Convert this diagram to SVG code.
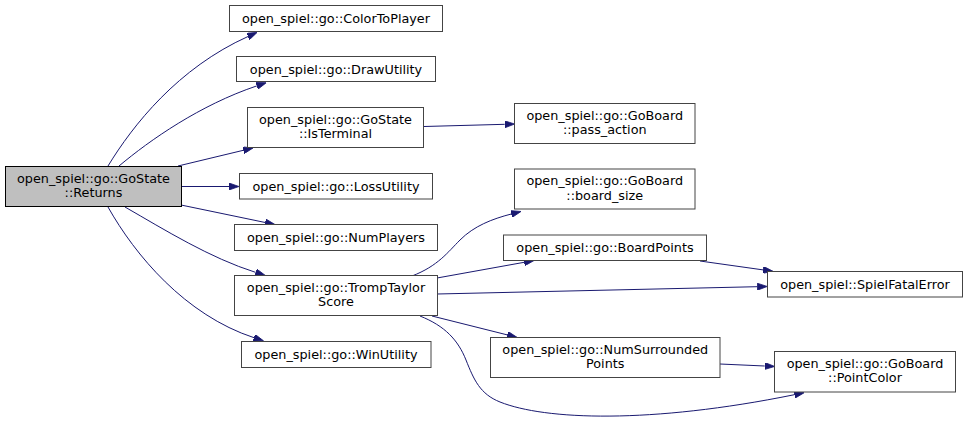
<svg xmlns="http://www.w3.org/2000/svg" width="968" height="424" viewBox="0 0 968 424">
<style>
.n rect{fill:#ffffff;stroke:#444444;stroke-width:1}
.n text{font-family:"DejaVu Sans",sans-serif;font-size:12.8px;fill:#000000;text-anchor:middle}
#root rect{fill:#bfbfbf;stroke:#000000}
.e path{fill:none;stroke:#191970;stroke-width:1;marker-end:url(#ah)}
</style>
<defs>
<marker id="ah" viewBox="0 0 10 7" refX="0" refY="3.5" markerWidth="10" markerHeight="7" markerUnits="userSpaceOnUse" orient="auto">
<path d="M0,0 L10,3.5 L0,7 z" fill="#191970" stroke="#191970" stroke-width="0.8"/>
</marker>
</defs>
<rect width="968" height="424" fill="#ffffff"/>
<g id="edges" class="e">
<path d="M108,166 C133,125 178,68 248,36.5"/>
<path d="M119,166 C150,140 200,105 256.8,85.9"/>
<path d="M178,166 L243.3,150.3"/>
<path d="M181,186.5 L229,186.5"/>
<path d="M181,205 L265.2,222.5"/>
<path d="M125,207 C165,230 210,258 255.7,272.4"/>
<path d="M108,207 C135,255 185,315 254,337.7"/>
<path d="M424,126.5 L504.7,124.3"/>
<path d="M412,276 C438,266 448,252 460,240 C474,226 492,219 511.3,214"/>
<path d="M437,278 L524.2,262.3"/>
<path d="M437,294 L757.3,286.7"/>
<path d="M700,261 L763.1,269.9"/>
<path d="M432,316 L507.3,334.9"/>
<path d="M720,364 L764.7,366"/>
<path d="M420,316 C445,326 458,340 466,360 C474,380 480,394 500,402 C545,420 650,424 794.4,394.7"/>
</g>
<g id="root" class="n"><rect x="5.5" y="166.5" width="176" height="40"/><text x="93.5" y="183">open_spiel::go::GoState</text><text x="93.5" y="197">::Returns</text></g>
<g id="colortoplayer" class="n"><rect x="229.5" y="5.5" width="213" height="26"/><text x="336" y="22.5">open_spiel::go::ColorToPlayer</text></g>
<g id="drawutility" class="n"><rect x="236.5" y="56.5" width="199" height="25"/><text x="336" y="73.5">open_spiel::go::DrawUtility</text></g>
<g id="isterminal" class="n"><rect x="247.5" y="107.5" width="176" height="40"/><text x="335.5" y="123.5">open_spiel::go::GoState</text><text x="335.5" y="138">::IsTerminal</text></g>
<g id="lossutility" class="n"><rect x="239.5" y="173.5" width="193" height="25.5"/><text x="336" y="190.5">open_spiel::go::LossUtility</text></g>
<g id="numplayers" class="n"><rect x="234.5" y="224.5" width="203" height="26"/><text x="336" y="241.5">open_spiel::go::NumPlayers</text></g>
<g id="tromptaylor" class="n"><rect x="234.5" y="275.5" width="203" height="40"/><text x="336" y="291.5">open_spiel::go::TrompTaylor</text><text x="336" y="306">Score</text></g>
<g id="winutility" class="n"><rect x="241.5" y="341.5" width="189.5" height="26"/><text x="336" y="358.5">open_spiel::go::WinUtility</text></g>
<g id="passaction" class="n"><rect x="514.5" y="103.5" width="180.5" height="40"/><text x="604.75" y="119.5">open_spiel::go::GoBoard</text><text x="604.75" y="134">::pass_action</text></g>
<g id="boardsize" class="n"><rect x="514.5" y="169" width="180.5" height="40"/><text x="604.75" y="185">open_spiel::go::GoBoard</text><text x="604.75" y="199.5">::board_size</text></g>
<g id="boardpoints" class="n"><rect x="503.5" y="235" width="203" height="25.5"/><text x="605" y="252">open_spiel::go::BoardPoints</text></g>
<g id="numsurrounded" class="n"><rect x="490.5" y="337.5" width="229.5" height="40"/><text x="605.25" y="353.5">open_spiel::go::NumSurrounded</text><text x="605.25" y="368">Points</text></g>
<g id="spielfatalerror" class="n"><rect x="767.5" y="271.5" width="195" height="25.5"/><text x="865" y="288.5">open_spiel::SpielFatalError</text></g>
<g id="pointcolor" class="n"><rect x="774.5" y="351.5" width="181" height="40.5"/><text x="865" y="367.5">open_spiel::go::GoBoard</text><text x="865" y="382">::PointColor</text></g>
</svg>
